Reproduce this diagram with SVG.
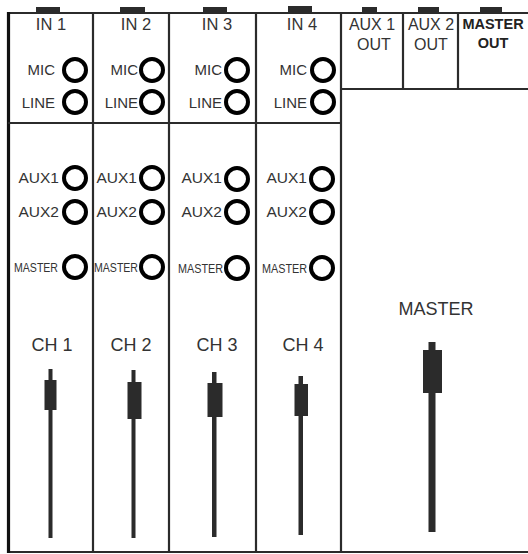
<svg xmlns="http://www.w3.org/2000/svg" width="528" height="554" viewBox="0 0 528 554">
<style>
  .frame{fill:none;stroke:#2b2b2b;stroke-width:2.2}
  .edge{fill:none;stroke:#111;stroke-width:3.2}
  .tab{fill:#2b2b2b}
  .jack{fill:none;stroke:#000;stroke-width:4}
  .t{font-family:"Liberation Sans",Arial,sans-serif;fill:#333}
  .hd{font-size:16.5px;text-anchor:middle}
  .lbl{font-size:15px;text-anchor:end}
  .aux{font-size:15.5px;text-anchor:end}
  .sm{font-size:13px;text-anchor:end}
  .ch{font-size:18px;text-anchor:middle}
  .out{font-size:16px;text-anchor:middle}
  .bold{font-weight:bold;fill:#222;font-size:14.5px;text-anchor:middle}
  .fader{fill:#2b2b2b}
</style>
<rect width="528" height="554" fill="#fff"/>

<g id="tabs">
  <rect class="tab" x="36" y="7" width="24" height="6"/>
  <rect class="tab" x="120" y="7" width="25" height="6"/>
  <rect class="tab" x="203" y="7" width="24" height="6"/>
  <rect class="tab" x="288" y="6" width="24" height="7"/>
  <rect class="tab" x="362" y="7" width="15" height="6"/>
  <rect class="tab" x="418" y="7" width="21" height="6"/>
  <rect class="tab" x="480" y="7" width="22" height="6"/>
</g>

<g id="frame">
  <line class="frame" x1="8" y1="13" x2="528" y2="13"/>
  <line class="frame" x1="8" y1="552" x2="528" y2="552"/>
  <line class="edge" x1="8.5" y1="12" x2="8.5" y2="553"/>
  <line class="frame" x1="93" y1="13" x2="93" y2="552"/>
  <line class="frame" x1="169" y1="13" x2="169" y2="552"/>
  <line class="frame" x1="256" y1="13" x2="256" y2="552"/>
  <line class="frame" x1="341" y1="13" x2="341" y2="552"/>
  <line class="frame" x1="403" y1="13" x2="403" y2="89"/>
  <line class="frame" x1="458" y1="13" x2="458" y2="89"/>
  <line class="frame" x1="8" y1="123" x2="341" y2="123"/>
  <line class="frame" x1="341" y1="89" x2="528" y2="89"/>
</g>

<g id="in1">
  <text class="t hd" x="51" y="30">IN 1</text>
  <text class="t lbl" x="55" y="75">MIC</text>
  <circle class="jack" cx="75" cy="70" r="11"/>
  <text class="t lbl" x="55" y="108">LINE</text>
  <circle class="jack" cx="75" cy="102" r="11"/>
</g>
<g id="in2">
  <text class="t hd" x="136" y="30">IN 2</text>
  <text class="t lbl" x="138" y="75">MIC</text>
  <circle class="jack" cx="152" cy="70" r="11"/>
  <text class="t lbl" x="138" y="108">LINE</text>
  <circle class="jack" cx="152" cy="102" r="11"/>
</g>
<g id="in3">
  <text class="t hd" x="217" y="30">IN 3</text>
  <text class="t lbl" x="222" y="75">MIC</text>
  <circle class="jack" cx="237" cy="70" r="11"/>
  <text class="t lbl" x="222" y="108">LINE</text>
  <circle class="jack" cx="237" cy="102" r="11"/>
</g>
<g id="in4">
  <text class="t hd" x="302" y="30">IN 4</text>
  <text class="t lbl" x="307" y="75">MIC</text>
  <circle class="jack" cx="323" cy="70" r="11"/>
  <text class="t lbl" x="307" y="108">LINE</text>
  <circle class="jack" cx="323" cy="102" r="11"/>
</g>

<g id="aux1out">
  <text class="t out" x="372" y="30">AUX 1</text>
  <text class="t out" x="374" y="50">OUT</text>
</g>
<g id="aux2out">
  <text class="t out" x="431" y="30">AUX 2</text>
  <text class="t out" x="431" y="50">OUT</text>
</g>
<g id="masterout">
  <text class="t bold" x="493" y="29">MASTER</text>
  <text class="t bold" x="493" y="48">OUT</text>
</g>

<g id="ch1">
  <text class="t aux" x="59" y="183">AUX1</text>
  <circle class="jack" cx="75" cy="178" r="11"/>
  <text class="t aux" x="59" y="217">AUX2</text>
  <circle class="jack" cx="75" cy="212" r="11"/>
  <text class="t sm" x="58" y="272" textLength="44" lengthAdjust="spacingAndGlyphs">MASTER</text>
  <circle class="jack" cx="75" cy="267" r="11"/>
  <text class="t ch" x="52" y="351">CH 1</text>
  <rect class="fader" x="48.5" y="369" width="4" height="169"/>
  <rect class="fader" x="44.5" y="380" width="12" height="30"/>
</g>
<g id="ch2">
  <text class="t aux" x="137" y="183">AUX1</text>
  <circle class="jack" cx="152" cy="178" r="11"/>
  <text class="t aux" x="137" y="217">AUX2</text>
  <circle class="jack" cx="152" cy="212" r="11"/>
  <text class="t sm" x="138" y="272" textLength="44" lengthAdjust="spacingAndGlyphs">MASTER</text>
  <circle class="jack" cx="152" cy="267" r="11"/>
  <text class="t ch" x="131" y="351">CH 2</text>
  <rect class="fader" x="131.5" y="370" width="4" height="168"/>
  <rect class="fader" x="127.5" y="382" width="14" height="37"/>
</g>
<g id="ch3">
  <text class="t aux" x="222" y="183">AUX1</text>
  <circle class="jack" cx="237" cy="179" r="11"/>
  <text class="t aux" x="222" y="217">AUX2</text>
  <circle class="jack" cx="237" cy="212" r="11"/>
  <text class="t sm" x="223" y="273" textLength="45" lengthAdjust="spacingAndGlyphs">MASTER</text>
  <circle class="jack" cx="237" cy="268" r="11"/>
  <text class="t ch" x="217" y="351">CH 3</text>
  <rect class="fader" x="212" y="372" width="4.5" height="165"/>
  <rect class="fader" x="207.5" y="383" width="15" height="34"/>
</g>
<g id="ch4">
  <text class="t aux" x="307" y="183">AUX1</text>
  <circle class="jack" cx="322" cy="179" r="11"/>
  <text class="t aux" x="307" y="217">AUX2</text>
  <circle class="jack" cx="322" cy="212" r="11"/>
  <text class="t sm" x="307" y="273" textLength="45" lengthAdjust="spacingAndGlyphs">MASTER</text>
  <circle class="jack" cx="322" cy="268" r="11"/>
  <text class="t ch" x="303" y="351">CH 4</text>
  <rect class="fader" x="298.5" y="376" width="4.5" height="159"/>
  <rect class="fader" x="294.5" y="384" width="13.5" height="32"/>
</g>
<g id="master">
  <text class="t ch" x="436" y="315">MASTER</text>
  <rect class="fader" x="428.5" y="342" width="7" height="190"/>
  <rect class="fader" x="423" y="350" width="19" height="43"/>
</g>
</svg>
